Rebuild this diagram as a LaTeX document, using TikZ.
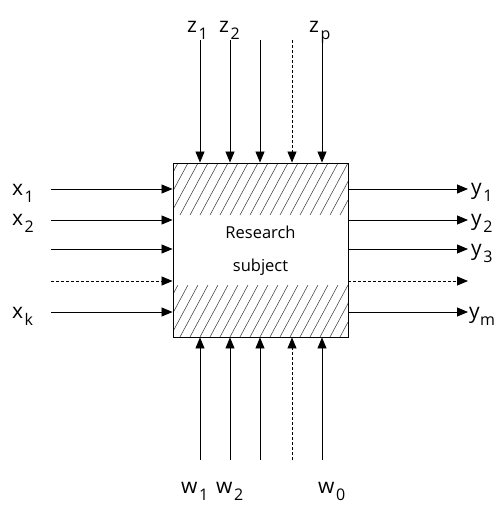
\documentclass[tikz,border=0pt]{standalone}
\usepackage{fontspec}
\setmainfont{Open Sans}
\usetikzlibrary{arrows.meta}
\newcommand{\lbl}[3][1.5pt]{{\fontsize{21}{21}\selectfont #2}\kern#1\raisebox{-7pt}{\fontsize{16}{16}\selectfont #3}}
\begin{document}
\begin{tikzpicture}[x=1pt,y=-1pt,
  arr/.style={line width=0.8pt,-{Triangle[length=11pt,width=9pt]}},
  dsh/.style={arr,dash pattern=on 3pt off 2pt},
  lab/.style={inner sep=0pt,anchor=base west},
  hatch/.style={line width=0.55pt,black!75},
  boxst/.style={draw,line width=0.9pt,minimum width=175pt,minimum height=174pt,inner sep=0pt},
  inner/.style={inner sep=0pt,anchor=base,font=\fontsize{16.5}{16.5}\selectfont}]
\useasboundingbox (0,0) rectangle (496,506);
\node[boxst] (box) at (260.5,250) {};
% hatching
\begin{scope}
\clip (173,163) rectangle (348,215);
\foreach \a in {100,110,...,360} \draw[hatch] (\a,215) -- ++(28,-52);
\end{scope}
\begin{scope}
\clip (173,285) rectangle (348,337);
\foreach \a in {100,110,...,360} \draw[hatch] (\a,337) -- ++(28,-52);
\end{scope}
\node[boxst] (boxf) at (box.center) {};
\node[inner] (r1) at (260.5,238) {Research};
\node[inner] (r2) at (260.5,271) {subject};
% top arrows
\foreach \n/\x in {1/200,2/230,3/260,5/322} {
  \coordinate (t\n) at (\x,40);
  \draw[arr] (t\n) -- (t\n |- box.north);
}
\coordinate (t4) at (292,40);
\draw[dsh] (t4) -- (t4 |- box.north);
% bottom arrows
\foreach \n/\x in {1/200,2/230,3/260,5/322} {
  \coordinate (b\n) at (\x,460);
  \draw[arr] (b\n) -- (b\n |- box.south);
}
\coordinate (b4) at (292,460);
\draw[dsh] (b4) -- (b4 |- box.south);
% left arrows
\foreach \n/\y in {1/189,2/220,3/249,5/312} {
  \coordinate (l\n) at (51,\y);
  \draw[arr] (l\n) -- (l\n -| box.west);
}
\coordinate (l4) at (51,281);
\draw[dsh] (l4) -- (l4 -| box.west);
% right arrows
\foreach \n/\y in {1/189,2/220,3/249,5/312} {
  \coordinate (r\n) at (468,\y);
  \draw[arr] (box.east |- r\n) -- (r\n);
}
\coordinate (r4) at (468,281);
\draw[dsh] (box.east |- r4) -- (r4);
% labels
\node[lab] (x1) at (12,195) {\lbl{x}{1}};
\node[lab] (x2) at (12,225) {\lbl{x}{2}};
\node[lab] (xk) at (12,318) {\lbl{x}{k}};
\node[lab] (y1) at (471,194) {\lbl{y}{1}};
\node[lab] (y2) at (471,225) {\lbl{y}{2}};
\node[lab] (y3) at (471,255) {\lbl{y}{3}};
\node[lab] (ym) at (469,318) {\lbl[0.3pt]{y}{m}};
\node[lab] (z1) at (187,32) {\lbl{z}{1}};
\node[lab] (z2) at (219,32) {\lbl{z}{2}};
\node[lab] (zp) at (309,32) {\lbl{z}{p}};
\node[lab] (w1) at (181,493) {\lbl{w}{1}};
\node[lab] (w2) at (216,493) {\lbl{w}{2}};
\node[lab] (w0) at (318,493) {\lbl{w}{0}};
\end{tikzpicture}
\end{document}
